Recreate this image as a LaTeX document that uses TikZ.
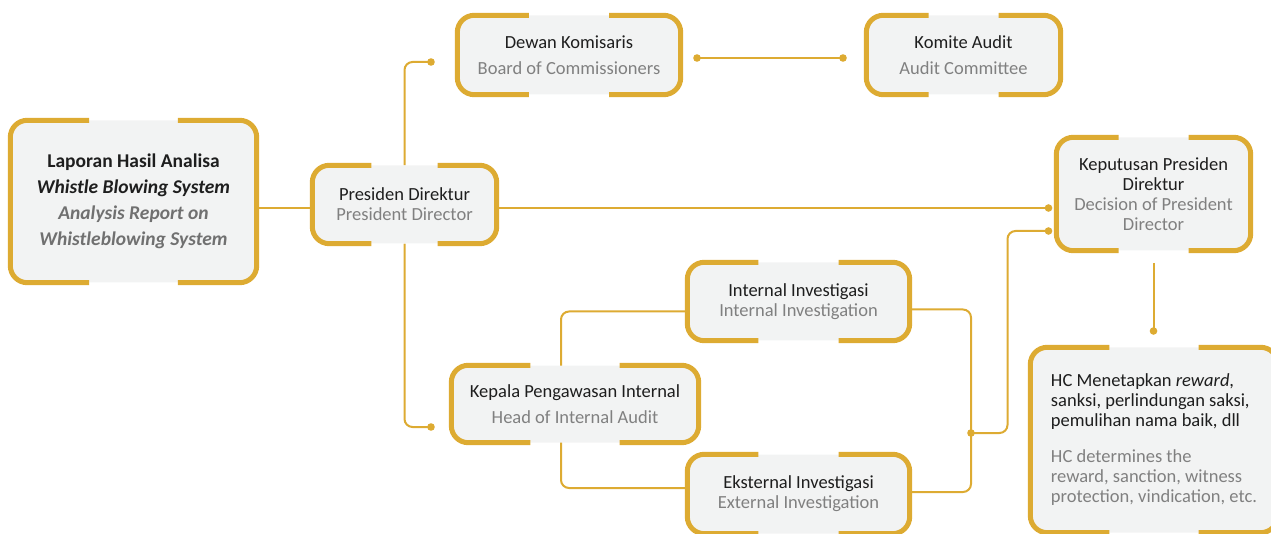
\documentclass[tikz,border=0pt]{standalone}
\usepackage{fontspec}
\setmainfont{Carlito}
\usetikzlibrary{calc,backgrounds}
\definecolor{gold}{RGB}{221,171,50}
\definecolor{panelfill}{RGB}{242,243,243}
\definecolor{txtdark}{RGB}{30,30,30}
\definecolor{txtgray}{RGB}{128,128,128}
\definecolor{txtgraydk}{RGB}{112,112,112}
\newcommand{\gapFrame}[1]{%
  \draw[frame] ($(#1.north)!0.36!(#1.north west)$) -- (#1.north west) -- (#1.south west) -- ($(#1.south)!0.36!(#1.south west)$);
  \draw[frame] ($(#1.north)!0.36!(#1.north east)$) -- (#1.north east) -- (#1.south east) -- ($(#1.south)!0.36!(#1.south east)$);}

\begin{document}
\begin{tikzpicture}[x=1pt,y=-1pt,
  panel/.style={fill=panelfill, rounded corners=17pt, inner sep=0pt, align=center, text=txtdark, font=\fontsize{18.5}{20}\selectfont},
  wide/.style={font=\fontsize{18.5}{26}\selectfont},
  frame/.style={draw=gold, line width=5pt, rounded corners=17pt},
  link/.style={draw=gold, line width=2pt, rounded corners=8pt}]
\useasboundingbox (0,0) rectangle (1271,534);
% boxes
\node[panel, font=\fontsize{19.5}{26}\selectfont, minimum width=246, minimum height=162] (lap) at (133.5,201.5) {\textbf{Laporan Hasil Analisa}\\\textbf{\textit{Whistle Blowing System}}\\{\color{txtgraydk}\textbf{\textit{Analysis Report on}}}\\{\color{txtgraydk}\textbf{\textit{Whistleblowing System}}}};
\node[panel, minimum width=184, minimum height=78] (pres) at (404.5,204.5) {Presiden Direktur\\{\color{txtgray}President Director}};
\node[panel, wide, minimum width=223, minimum height=79] (dk) at (569,55) {Dewan Komisaris\\{\color{txtgray}Board of Commissioners}};
\node[panel, wide, minimum width=194, minimum height=79] (ka) at (963.5,55) {Komite Audit\\{\color{txtgray}Audit Committee}};
\node[panel, minimum width=194, minimum height=113] (kep) at (1153.5,194) {Keputusan Presiden\\Direktur\\{\color{txtgray}Decision of President}\\{\color{txtgray}Director}};
\node[panel, align=left, minimum width=247, minimum height=185] (hc) at (1154,440) {HC Menetapkan \textit{reward},\\sanksi, perlindungan saksi,\\pemulihan nama baik, dll\\[16pt]{\color{txtgray}HC determines the}\\{\color{txtgray}reward, sanction, witness}\\{\color{txtgray}protection, vindication, etc.}};
\node[panel, wide, minimum width=247, minimum height=77] (kpi) at (575,404) {Kepala Pengawasan Internal\\{\color{txtgray}Head of Internal Audit}};
\node[panel, minimum width=222, minimum height=78] (ii) at (798.5,301.5) {Internal Investigasi\\{\color{txtgray}Internal Investigation}};
\node[panel, minimum width=222, minimum height=79] (ei) at (798.5,494) {Eksternal Investigasi\\{\color{txtgray}External Investigation}};
% borders with gaps
\foreach \b in {lap,pres,dk,ka,kep,hc,kpi,ii,ei}{\gapFrame{\b}}
% connector ends
\coordinate (presL) at ([yshift=-3.5]pres.west);
\coordinate (presR) at ([yshift=-3.5]pres.east);
\coordinate (dkIn) at (431,62);
\coordinate (kpiIn) at (431,427);
\coordinate (dkOut) at (697,58);
\coordinate (kaIn) at (843,58);
\coordinate (kepIn) at (1048.5,208);
\coordinate (kepIn2) at (1048.5,231);
\coordinate (jn) at (971,433);
\coordinate (kepOut) at (1153.5,263);
\coordinate (hcIn) at (1153.5,331);
\begin{scope}[on background layer]
\draw[link] (presL) -- (presL -| lap.east);
\draw[link] (pres.north) |- (dkIn);
\draw[link] (pres.south) |- (kpiIn);
\draw[link] (dkOut) -- (kaIn);
\draw[link] (presR) -- (kepIn);
\draw[link] ([yshift=-10]ii.west) -| (561,400) |- ([yshift=6]ei.west);
\draw[link] ([yshift=-8]ii.east) -| (jn) |- ([yshift=2]ei.east);
\draw[link] (jn) -| ([xshift=-41]kepIn2) -- (kepIn2);
\draw[link] (kepOut) -- (hcIn);
\end{scope}
\foreach \d in {dkIn,kpiIn,dkOut,kaIn,kepIn,kepIn2,jn,hcIn}{\fill[gold] (\d) circle (3.8);}
\end{tikzpicture}
\end{document}
